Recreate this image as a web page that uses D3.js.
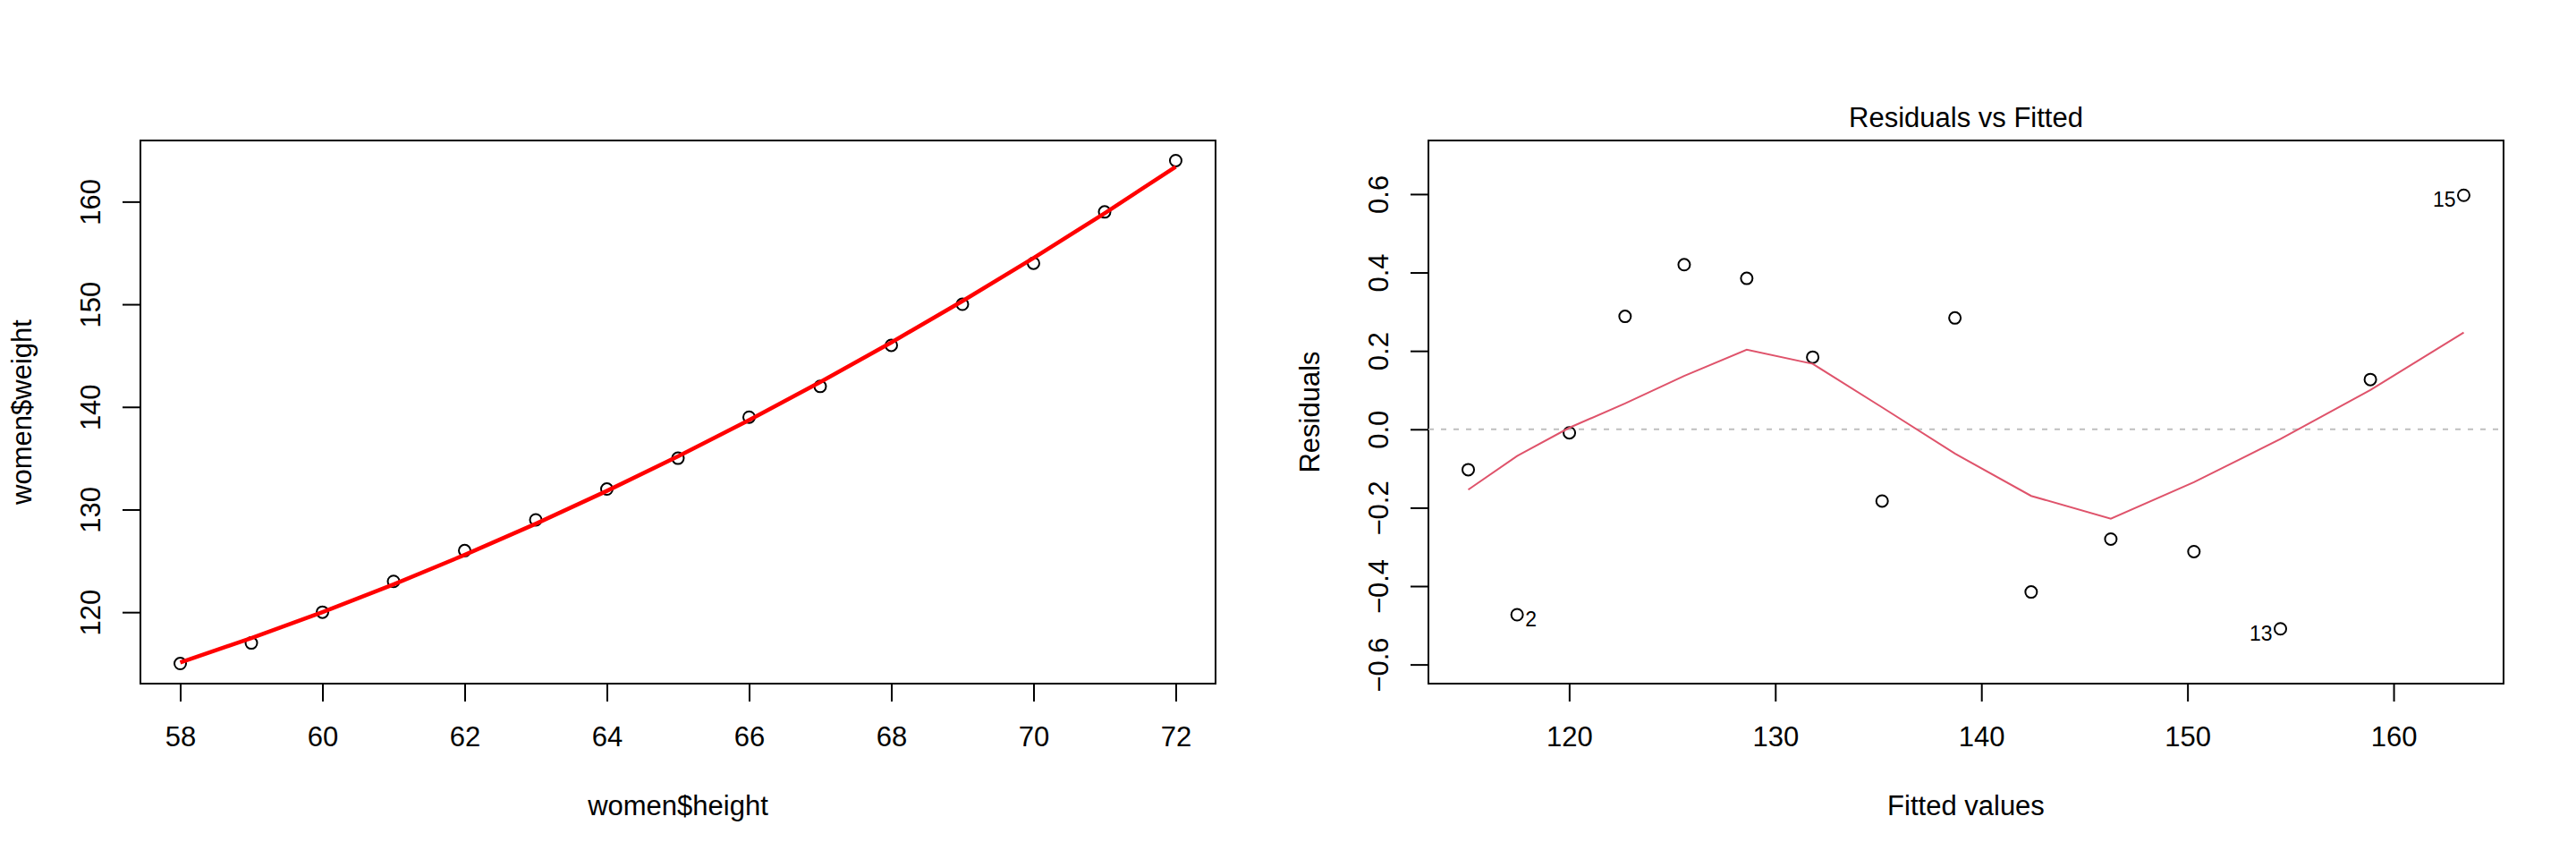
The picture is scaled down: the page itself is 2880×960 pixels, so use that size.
<!DOCTYPE html>
<html>
<head>
<meta charset="utf-8">
<script src="https://cdn.jsdelivr.net/npm/d3@7"></script>
<style>
  body { margin: 0; background: #fff; }
  text { font-family: "Liberation Sans", Arial, sans-serif; fill: #000; }
</style>
</head>
<body>
<div id="chart"></div>
<script>
// women data: height vs weight, with quadratic fit
const heights = [58, 59, 60, 61, 62, 63, 64, 65, 66, 67, 68, 69, 70, 71, 72];
const weights = [115, 117, 120, 123, 126, 129, 132, 135, 139, 142, 146, 150, 154, 159, 164];
const fitted = [115.103, 117.473, 120.009, 122.712, 125.580, 128.615, 131.816, 135.183,
                138.716, 142.415, 146.280, 150.312, 154.509, 158.873, 163.403];
const residuals = [-0.103, -0.473, -0.009, 0.288, 0.420, 0.385, 0.184, -0.183,
                   0.284, -0.415, -0.280, -0.312, -0.509, 0.127, 0.597];
// smoother
const smooth = [-0.154, -0.068, 0.004, 0.066, 0.136, 0.203, 0.167, 0.056,
                -0.062, -0.170, -0.228, -0.135, -0.025, 0.100, 0.247];
const labelled = [2, 13, 15];

const leftXTicks = [58, 60, 62, 64, 66, 68, 70, 72];
const leftYTicks = [120, 130, 140, 150, 160];
const rightXTicks = [120, 130, 140, 150, 160];
const rightYTicks = [-0.6, -0.4, -0.2, 0.0, 0.2, 0.4, 0.6];

const width = 2880;
const height = 960;
const boxTop = 157;
const boxBottom = 764;
const boxW = 1202;
const fontSize = 31;

// R style 4% range extension
let _ext = function (lo, hi, f) {
    const d = (hi - lo) * f;
    return [lo - d, hi + d];
}

const svg = d3.select("#chart")
    .append("svg")
    .attr("width", width)
    .attr("height", height);

let drawPanel = function (left, xDomain, yDomain, xTicks, yTicks, xFmt, yFmt, xLab, yLab) {
    const x = d3.scaleLinear().domain(xDomain).range([left, left + boxW]);
    const y = d3.scaleLinear().domain(yDomain).range([boxBottom, boxTop]);
    const g = svg.append("g");

    // x axis
    const ax = g.append("g")
        .attr("transform", `translate(0, ${boxBottom})`)
        .call(d3.axisBottom(x).tickValues(xTicks).tickSize(20).tickSizeOuter(0).tickFormat(xFmt));
    ax.select(".domain").remove();
    ax.selectAll("line").attr("stroke", "#000").attr("stroke-width", 2);
    ax.selectAll("text")
        .attr("y", 70).attr("dy", 0)
        .attr("font-size", fontSize)
        .attr("font-family", "Liberation Sans, Arial, sans-serif");

    // y axis
    const ay = g.append("g")
        .attr("transform", `translate(${left}, 0)`)
        .call(d3.axisLeft(y).tickValues(yTicks).tickSize(20).tickSizeOuter(0).tickFormat(yFmt));
    ay.select(".domain").remove();
    ay.selectAll("line").attr("stroke", "#000").attr("stroke-width", 2);
    ay.selectAll("text")
        .attr("x", 0).attr("dy", 0)
        .attr("text-anchor", "middle")
        .attr("transform", "translate(-45, 0) rotate(-90)")
        .attr("font-size", fontSize)
        .attr("font-family", "Liberation Sans, Arial, sans-serif");

    // box
    g.append("rect")
        .attr("x", left).attr("y", boxTop)
        .attr("width", boxW).attr("height", boxBottom - boxTop)
        .attr("fill", "none").attr("stroke", "#000").attr("stroke-width", 2);

    // axis titles
    g.append("text")
        .attr("x", left + boxW / 2).attr("y", boxBottom + 147)
        .attr("text-anchor", "middle").attr("font-size", fontSize)
        .text(xLab);
    g.append("text")
        .attr("transform", `translate(${left - 122}, ${(boxTop + boxBottom) / 2}) rotate(-90)`)
        .attr("text-anchor", "middle").attr("font-size", fontSize)
        .text(yLab);

    return { g: g, x: x, y: y };
}

// left panel: scatter with fitted curve
const lp = drawPanel(157,
    _ext(d3.min(heights), d3.max(heights), 0.04),
    _ext(d3.min(weights), d3.max(weights), 0.04),
    leftXTicks, leftYTicks, d3.format("d"), d3.format("d"),
    "women$height", "women$weight");

lp.g.selectAll("circle.pt")
    .data(heights)
    .join("circle")
    .attr("class", "pt")
    .attr("cx", d => lp.x(d))
    .attr("cy", (d, i) => lp.y(weights[i]))
    .attr("r", 6.5)
    .attr("fill", "none").attr("stroke", "#000").attr("stroke-width", 2);

lp.g.append("path")
    .datum(heights)
    .attr("d", d3.line().x(d => lp.x(d)).y((d, i) => lp.y(fitted[i])))
    .attr("fill", "none").attr("stroke", "#FF0000").attr("stroke-width", 4.5)
    .attr("stroke-linejoin", "round");

// right panel: residuals vs fitted
const rYlim = _ext(d3.min(residuals), d3.max(residuals), 0.08);
const rp = drawPanel(1597,
    _ext(d3.min(fitted), d3.max(fitted), 0.04),
    _ext(rYlim[0], rYlim[1], 0.04),
    rightXTicks, rightYTicks, d3.format("d"), d3.format(".1f"),
    "Fitted values", "Residuals");

rp.g.append("text")
    .attr("x", 1597 + boxW / 2).attr("y", 142)
    .attr("text-anchor", "middle").attr("font-size", fontSize)
    .text("Residuals vs Fitted");

rp.g.append("line")
    .attr("x1", rp.x.range()[0]).attr("x2", rp.x.range()[1])
    .attr("y1", rp.y(0)).attr("y2", rp.y(0))
    .attr("stroke", "#BEBEBE").attr("stroke-width", 2)
    .attr("stroke-dasharray", "6,8");

rp.g.selectAll("circle.pt")
    .data(fitted)
    .join("circle")
    .attr("class", "pt")
    .attr("cx", d => rp.x(d))
    .attr("cy", (d, i) => rp.y(residuals[i]))
    .attr("r", 6.5)
    .attr("fill", "none").attr("stroke", "#000").attr("stroke-width", 2);

rp.g.append("path")
    .datum(fitted)
    .attr("d", d3.line().x(d => rp.x(d)).y((d, i) => rp.y(smooth[i])))
    .attr("fill", "none").attr("stroke", "#DF536B").attr("stroke-width", 2);

// id labels for largest residuals
const mid = d3.mean(rp.x.domain());
rp.g.selectAll("text.id")
    .data(labelled)
    .join("text")
    .attr("class", "id")
    .attr("x", d => fitted[d - 1] > mid ? rp.x(fitted[d - 1]) - 9 : rp.x(fitted[d - 1]) + 9)
    .attr("y", d => rp.y(residuals[d - 1]) + 13)
    .attr("text-anchor", d => fitted[d - 1] > mid ? "end" : "start")
    .attr("font-size", 23)
    .text(d => d);
</script>
</body>
</html>
